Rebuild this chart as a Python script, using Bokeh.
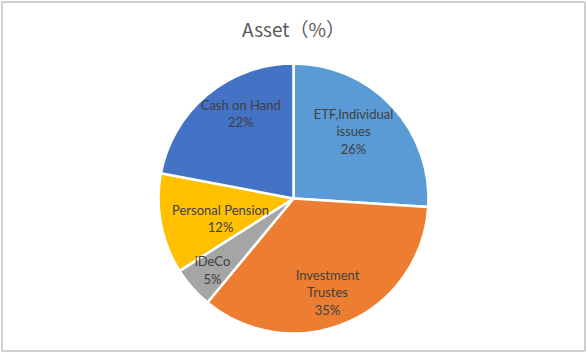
import math
from bokeh.plotting import figure
from bokeh.models import ColumnDataSource, Range1d
from bokeh.core.properties import value
from bokeh.embed import file_html
from bokeh.resources import INLINE

labels = ["ETF,Individual\nissues", "Investment\nTrustes", "iDeCo", "Personal Pension", "Cash on Hand"]
shares = [26, 35, 5, 12, 22]
colors = ["#5B9BD5", "#ED7D31", "#A5A5A5", "#FFC000", "#4472C4"]
label_radius = [0.667, 0.74, 0.80, 0.56, 0.74]
label_shift_deg = [-5, 3.5, 0, -4.5, 7.7]

W, H = 586, 352
cx, cy, R = 293, 154, 135

p = figure(width=W, height=H, output_backend="svg", toolbar_location=None,
           x_range=Range1d(0, W), y_range=Range1d(0, H), min_border=0,
           outline_line_color=None)
p.axis.visible = False
p.grid.visible = False
p.background_fill_color = "white"
p.border_fill_color = "white"

total = sum(shares)
starts, ends, lx, ly, texts = [], [], [], [], []
acc = 0
for s, lab, rf, sh in zip(shares, labels, label_radius, label_shift_deg):
    a0 = acc / total * 2 * math.pi
    acc += s
    a1 = acc / total * 2 * math.pi
    # clockwise from 12 o'clock -> bokeh angle (counter-clockwise from +x)
    starts.append(math.pi / 2 - a1)
    ends.append(math.pi / 2 - a0)
    mid = (a0 + a1) / 2 + math.radians(sh)
    lx.append(cx + rf * R * math.sin(mid))
    ly.append(cy + rf * R * math.cos(mid))
    texts.append(f"{lab}\n{s}%")

src = ColumnDataSource(dict(start=starts, end=ends, color=colors, lx=lx, ly=ly, text=texts))
p.wedge(x=cx, y=cy, radius=R, start_angle="start", end_angle="end",
        fill_color="color", line_color="white", line_width=2.5, source=src)
p.text(x="lx", y="ly", text="text", source=src, text_align="center", text_baseline="middle",
       text_font=value("Lato"), text_font_size="13px", text_color="#404040",
       text_line_height=1.1)

p.text(x=[W / 2], y=[H - 28], text=["Asset（%）"], text_align="center", text_baseline="middle",
       text_font=value("Noto Sans CJK JP"), text_font_size="19px", text_color="#595959")

# frame
p.rect(x=[W / 2], y=[H / 2], width=[W - 3], height=[H - 3], fill_color=None,
       line_color="#cfcfcf", line_width=2)

open("out.html", "w").write(file_html(p, INLINE))
